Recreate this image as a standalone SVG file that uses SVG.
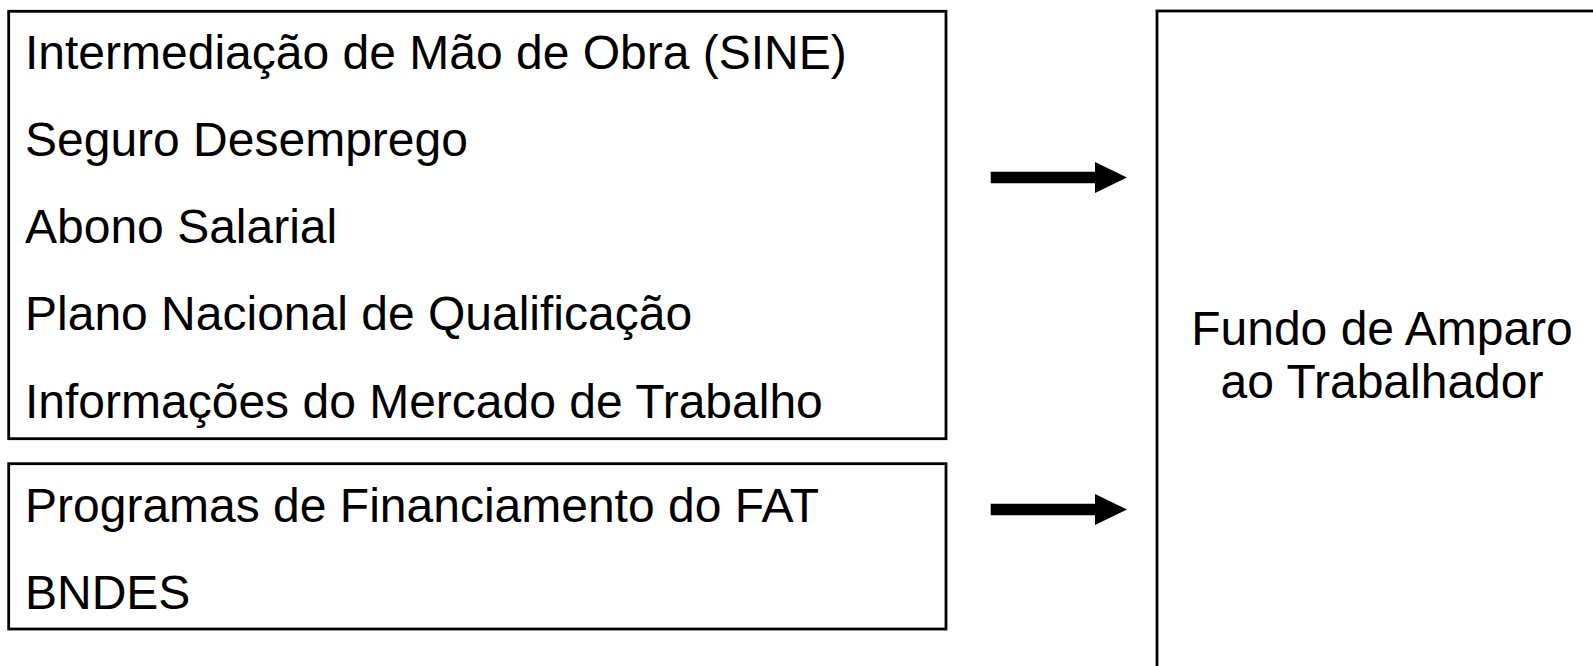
<svg xmlns="http://www.w3.org/2000/svg" width="1593" height="666" viewBox="0 0 1593 666">
<defs>
<style>
.box{fill:#fff;stroke:#000;stroke-width:2.8}
.t{font-family:"Liberation Sans",Arial,sans-serif;font-size:48px;fill:#000}
.arr{stroke:#000;stroke-width:11.6;fill:none}
</style>
<marker id="head" markerUnits="userSpaceOnUse" viewBox="0 0 32 31" markerWidth="32" markerHeight="31" refX="0" refY="15.5" orient="auto">
<path d="M0,0 L32,15.5 L0,31 z" fill="#000"/>
</marker>
</defs>
<rect width="1593" height="666" fill="#fff"/>
<g id="fat">
<rect class="box" x="1157" y="11" width="460" height="700"/>
<text class="t" x="1382" y="345" text-anchor="middle">Fundo de Amparo</text>
<text class="t" x="1382" y="398" text-anchor="middle">ao Trabalhador</text>
</g>
<g id="programas">
<rect class="box" x="8.7" y="11.3" width="937.3" height="427.4"/>
<text class="t" x="25" y="69">Intermediação de Mão de Obra (SINE)</text>
<text class="t" x="25" y="156">Seguro Desemprego</text>
<text class="t" x="25" y="243">Abono Salarial</text>
<text class="t" x="25" y="330">Plano Nacional de Qualificação</text>
<text class="t" x="25" y="418">Informações do Mercado de Trabalho</text>
</g>
<g id="financiamento">
<rect class="box" x="8.7" y="463.7" width="937.3" height="165.3"/>
<text class="t" x="25" y="522">Programas de Financiamento do FAT</text>
<text class="t" x="25" y="609">BNDES</text>
</g>
<g id="connectors">
<line class="arr" x1="990.7" y1="177.5" x2="1095" y2="177.5" marker-end="url(#head)"/>
<line class="arr" x1="990.7" y1="509.5" x2="1095" y2="509.5" marker-end="url(#head)"/>
</g>
</svg>
